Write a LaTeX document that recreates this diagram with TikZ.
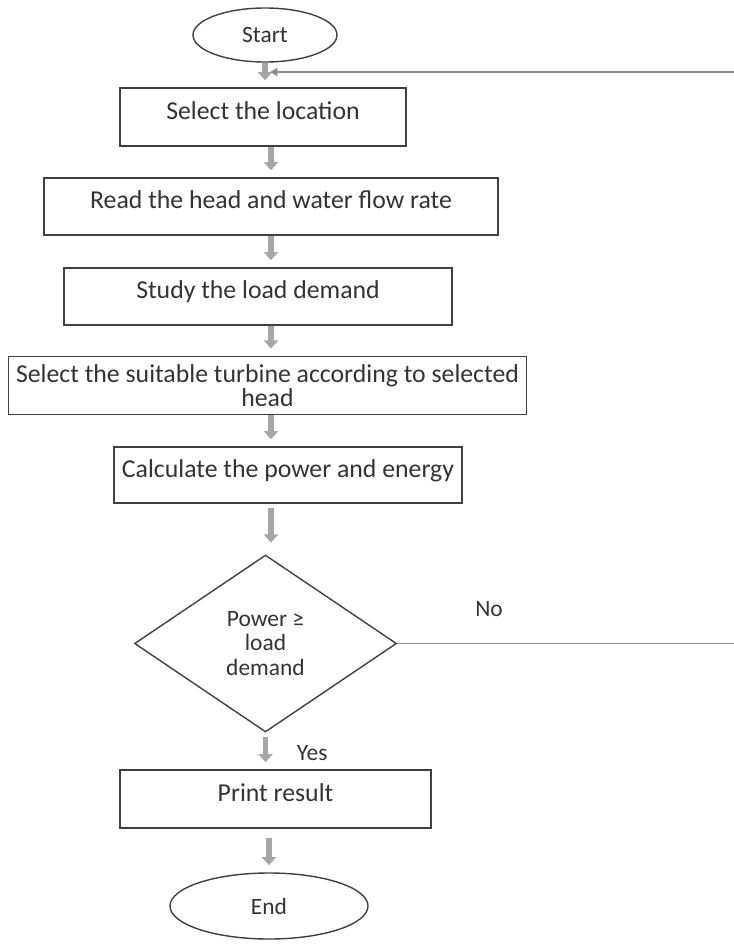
\documentclass[tikz,border=0pt]{standalone}
\usepackage{fontspec}
\setmainfont{Carlito}
\usetikzlibrary{shapes.geometric,arrows.meta}

\newcommand{\px}{0.015cm}

\tikzset{
  flowbox/.style={draw=black!75, line width=0.6pt, rectangle, text=black!80,
    minimum height=58*\px, text height=7.5pt, text depth=5.5pt,
    font=\fontsize{11}{12}\selectfont},
  widebox/.style={draw=black!75, line width=0.6pt, rectangle, text=black!80,
    align=center, font=\fontsize{11}{10.5}\selectfont},
  term/.style={draw=black!75, line width=0.6pt, ellipse, text=black!80,
    font=\fontsize{10}{12}\selectfont},
  choice/.style={draw=black!75, line width=0.6pt, diamond, inner sep=0pt,
    text=black!80, align=center, font=\fontsize{10}{10.5}\selectfont},
  flowarrow/.style={draw=black!35, line width=2.2pt, shorten >=3pt,
    -{Triangle[length=3.5pt,width=6pt]}},
  backline/.style={draw=black!45, line width=0.8pt, shorten >=1pt,
    -{Triangle[length=3pt,width=3.5pt]}},
  edgelabel/.style={text=black!80, font=\fontsize{10}{12}\selectfont}
}

\begin{document}
\begin{tikzpicture}[x=\px, y=-\px]

\useasboundingbox (0,0) rectangle (734,944);

% steps
\node[term, minimum width=144*\px, minimum height=54*\px] (start) at (265,35) {Start};
\node[flowbox, minimum width=286*\px] (loc) at (263,117) {Select the location};
\node[flowbox, minimum width=454*\px, minimum height=57*\px] (read) at (271,206.5) {Read the head and water flow rate};
\node[flowbox, minimum width=388*\px, minimum height=57*\px] (study) at (258,296.5) {Study the load demand};
\node[widebox, minimum width=507*\px, minimum height=55*\px] (turb) at (267.5,385.5) {Select the suitable turbine according to selected\\head};
\node[flowbox, minimum width=336*\px, minimum height=56*\px] (calc) at (288,475) {Calculate the power and energy};
\node[choice, minimum width=262*\px, minimum height=177*\px] (dia) at (265.5,643.5) {Power ≥\\load\\demand};
\node[flowbox, minimum width=311*\px] (print) at (275.5,799) {Print result};
\node[term, minimum width=198*\px, minimum height=66*\px] (end) at (269,906) {End};

\coordinate (col) at (271,0);
\coordinate (join) at (268,72);

% arrows
\draw[flowarrow] (start.south) -- (start.south |- loc.north);
\draw[flowarrow] (loc.south -| col) -- (read.north -| col);
\draw[flowarrow] (read.south -| col) -- (study.north -| col);
\draw[flowarrow] (study.south -| col) -- (turb.north -| col);
\draw[flowarrow] (turb.south -| col) -- (calc.north -| col);
\draw[flowarrow, shorten >=5pt] ([yshift=-2pt]calc.south -| col) -- (dia.north -| col);
\draw[flowarrow] ([yshift=-2pt]dia.south) -- node[edgelabel, midway, right=9pt]{Yes} (print.north -| dia.south);
\draw[flowarrow] ([yshift=-4pt]print.south -| end.north) -- (end.north);

% loop back
\draw[backline] (dia.east) -- node[edgelabel, pos=0.27, yshift=14.5pt]{No} ++(340,0) |- (join);

\end{tikzpicture}
\end{document}
